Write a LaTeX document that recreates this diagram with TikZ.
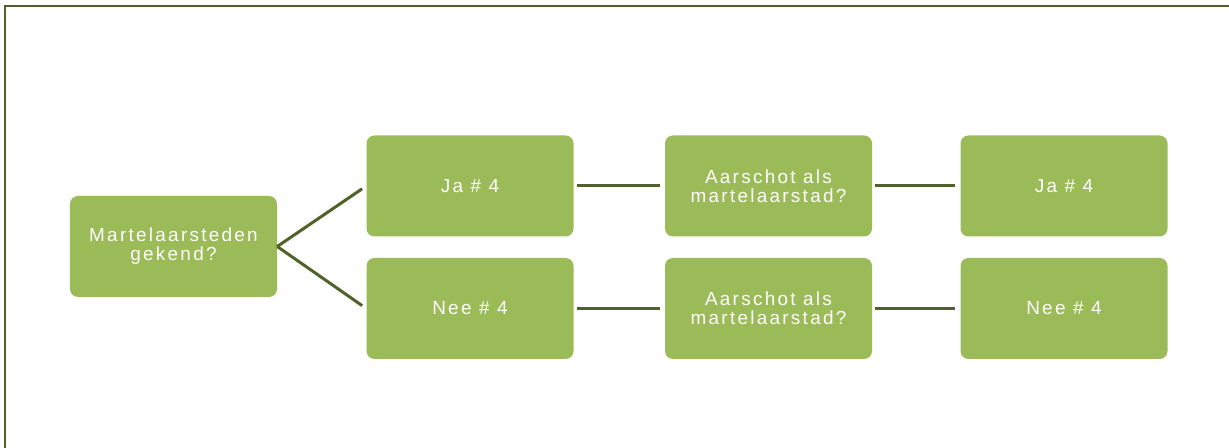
\documentclass[tikz,border=0pt]{standalone}
\usepackage{fontspec}
\newfontfamily\boxfont[LetterSpace=12]{Liberation Sans}
\definecolor{boxgreen}{RGB}{155,187,89}
\definecolor{olive}{RGB}{79,98,40}
\begin{document}
\begin{tikzpicture}[x=1bp,y=-1bp,
  box/.style={rounded corners=8bp, fill=boxgreen, draw=none, text=white,
    minimum width=207bp, minimum height=101bp, inner sep=0pt, align=center,
    font=\boxfont\fontsize{19}{19}\selectfont},
  conn/.style={draw=olive, line width=3bp}]
\useasboundingbox (0,0) rectangle (1229,448);
\draw[olive, line width=2bp] (5,448) -- (5,6) -- (1229,6);
\node[box] (root) at (173.5,246.5) {Martelaarsteden\\gekend?};
\node[box] (ja1) at (470,186) {Ja \# 4};
\node[box] (nee1) at (470,308.5) {Nee \# 4};
\node[box] (q1) at (768.5,186) {Aarschot als\\martelaarstad?};
\node[box] (q2) at (768.5,308.5) {Aarschot als\\martelaarstad?};
\node[box] (ja2) at (1064,186) {Ja \# 4};
\node[box] (nee2) at (1064,308.5) {Nee \# 4};
\draw[conn, shorten >=5bp] (root.east) -- (ja1.west);
\draw[conn, shorten >=5bp] (root.east) -- (nee1.west);
\draw[conn, shorten <=3bp, shorten >=5bp] (ja1.east) -- (q1.west);
\draw[conn, shorten <=3bp, shorten >=5bp] (nee1.east) -- (q2.west);
\draw[conn, shorten <=3bp, shorten >=5bp] (q1.east) -- (ja2.west);
\draw[conn, shorten <=3bp, shorten >=5bp] (q2.east) -- (nee2.west);
\end{tikzpicture}
\end{document}
